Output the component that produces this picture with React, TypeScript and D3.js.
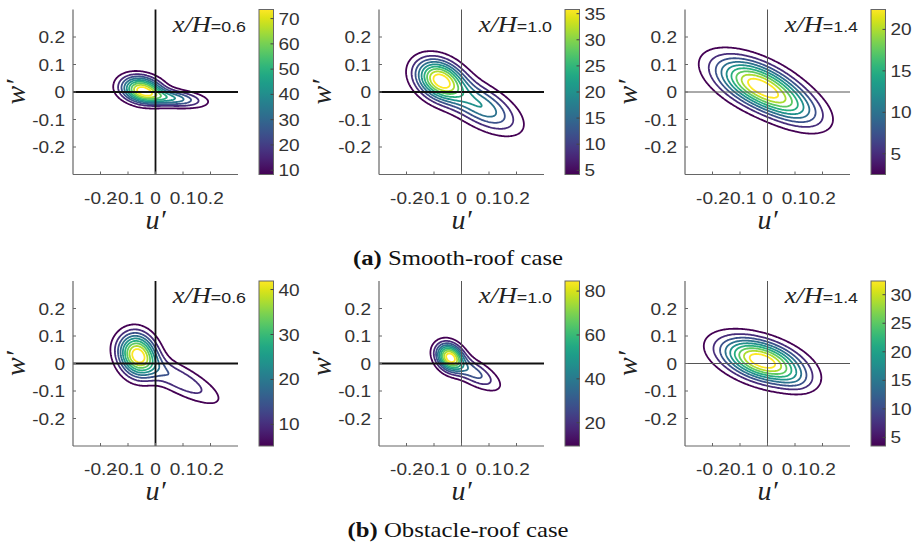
import React, { useEffect, useRef } from "react";
import * as d3 from "d3";

const stations = ["0.6", "1.0", "1.4"];
const caseTags = ["(a)", "(b)"];
const caseLabels = ["Smooth-roof case", "Obstacle-roof case"];
const axisTicks = [-0.2, -0.1, 0, 0.1, 0.2];
const axisTickLabels = ["-0.2", "-0.1", "0", "0.1", "0.2"];

// lowest / highest contour level of each panel (= colorbar limits)
const cbarMin = [8.3, 4.2, 2.5, 5.2, 9.4, 3.5];
const cbarMax = [73.6, 35.8, 22.4, 41.9, 84.6, 32.4];
const cbarTicks = [
  [10, 20, 30, 40, 50, 60, 70],
  [5, 10, 15, 20, 25, 30, 35],
  [5, 10, 15, 20],
  [10, 20, 30, 40],
  [20, 40, 60, 80],
  [5, 10, 15, 20, 25, 30],
];
const peakValues = [81.8, 39.8, 24.9, 46.5, 94, 36];
const levelCount = 9;

const smooth06 = [
  [-0.05, 0.01, 0.05, 0.031, -12, 1],
  [0.055, -0.022, 0.078, 0.02, -6, 0.55],
];
const smooth10 = [
  [-0.08, 0.045, 0.062, 0.045, -30, 1],
  [0.07, -0.05, 0.1, 0.045, -30, 0.55],
];
const smooth14 = [
  [-0.035, 0.025, 0.11, 0.05, -25, 1],
  [0.1, -0.06, 0.09, 0.045, -25, 0.33],
];
const obstacle06 = [
  [-0.065, 0.032, 0.055, 0.045, -70, 1],
  [0.08, -0.055, 0.12, 0.035, -28, 0.33],
];
const obstacle10 = [
  [-0.043, 0.024, 0.036, 0.029, -50, 1],
  [0.04, -0.03, 0.072, 0.028, -30, 0.4],
];
const obstacle14 = [
  [-0.02, 0.01, 0.102, 0.046, -18, 1],
  [0.1, -0.06, 0.05, 0.03, -18, 0.1],
];
const panelBlobs = [smooth06, smooth10, smooth14, obstacle06, obstacle10, obstacle14];

// [horizontal zero line bold, vertical zero line bold]
const zeroBold = [
  [true, true],
  [true, false],
  [false, false],
  [true, true],
  [true, false],
  [false, false],
];

const W = 918;
const H = 545;
const plotLeft = [73, 379, 685];
const plotTop = [9.5, 281];
const plotSize = 165;
const sans = "Liberation Sans, Arial, sans-serif";
const serif = "Liberation Serif, Times New Roman, serif";

export default function App() {
  const ref = useRef<SVGSVGElement | null>(null);

  useEffect(() => {
    const svg = d3.select(ref.current);
    svg.selectAll("*").remove();
    const defs = svg.append("defs");

    const grad = defs
      .append("linearGradient")
      .attr("id", "viridis")
      .attr("x1", 0)
      .attr("y1", 1)
      .attr("x2", 0)
      .attr("y2", 0);
    d3.range(0, 1.0001, 0.05).forEach((t) => {
      grad
        .append("stop")
        .attr("offset", t)
        .attr("stop-color", d3.interpolateViridis(t));
    });

    // stretched sans text, like the original's matlab labels
    const label = (g: any, x: number, y: number, txt: string, anchor: string) =>
      g
        .append("text")
        .attr("transform", `translate(${x},${y}) scale(1.12,1)`)
        .attr("text-anchor", anchor)
        .attr("font-family", sans)
        .attr("font-size", 17)
        .attr("fill", "#333")
        .text(txt);

    const N = 151;
    const step = 0.6 / (N - 1);

    panelBlobs.forEach((blobs, p) => {
      const col = p % 3;
      const row = Math.floor(p / 3);
      const left = plotLeft[col];
      const top = plotTop[row];

      const x = d3.scaleLinear().domain([-0.3, 0.3]).range([left, left + plotSize]);
      const y = d3.scaleLinear().domain([-0.3, 0.3]).range([top + plotSize, top]);

      const g = svg.append("g");

      defs
        .append("clipPath")
        .attr("id", "clip" + p)
        .append("rect")
        .attr("x", left)
        .attr("y", top)
        .attr("width", plotSize)
        .attr("height", plotSize);

      // density grid
      const values: number[] = new Array(N * N);
      let vmax = 0;
      for (let j = 0; j < N; j++) {
        const w = -0.3 + j * step;
        for (let i = 0; i < N; i++) {
          const u = -0.3 + i * step;
          let v = 0;
          blobs.forEach(([u0, w0, s1, s2, ang, a]) => {
            const t = (ang * Math.PI) / 180;
            const du = u - u0;
            const dw = w - w0;
            const along = du * Math.cos(t) + dw * Math.sin(t);
            const across = -du * Math.sin(t) + dw * Math.cos(t);
            v += a * Math.exp(-0.5 * ((along / s1) ** 2 + (across / s2) ** 2));
          });
          values[j * N + i] = v;
          if (v > vmax) vmax = v;
        }
      }
      const k = peakValues[p] / vmax;
      for (let i = 0; i < values.length; i++) values[i] *= k;

      const levels = d3.range(levelCount).map(
        (i) => cbarMin[p] + ((cbarMax[p] - cbarMin[p]) * i) / (levelCount - 1)
      );
      const color = d3.scaleSequential(d3.interpolateViridis).domain([cbarMin[p], cbarMax[p]]);

      const contours = d3.contours().size([N, N]).thresholds(levels)(values);
      const proj = d3.geoTransform({
        point(px: number, py: number) {
          (this as any).stream.point(x(-0.3 + (px - 0.5) * step), y(-0.3 + (py - 0.5) * step));
        },
      });
      const path = d3.geoPath(proj);

      g.append("g")
        .attr("clip-path", `url(#clip${p})`)
        .selectAll("path")
        .data(contours)
        .enter()
        .append("path")
        .attr("d", (d: any) => path(d))
        .attr("fill", "none")
        .attr("stroke", (d: any) => color(d.value))
        .attr("stroke-width", 1.8)
        .attr("stroke-linejoin", "round");

      // zero lines
      const [hb, vb] = zeroBold[p];
      g.append("line")
        .attr("x1", left)
        .attr("x2", left + plotSize)
        .attr("y1", y(0))
        .attr("y2", y(0))
        .attr("stroke", hb ? "#111" : "#555")
        .attr("stroke-width", hb ? 1.8 : 1);
      g.append("line")
        .attr("x1", x(0))
        .attr("x2", x(0))
        .attr("y1", top)
        .attr("y2", top + plotSize)
        .attr("stroke", vb ? "#111" : "#555")
        .attr("stroke-width", vb ? 1.8 : 1);

      // axes
      const axisColor = "#666";
      g.append("line")
        .attr("x1", left)
        .attr("x2", left)
        .attr("y1", top)
        .attr("y2", top + plotSize)
        .attr("stroke", axisColor)
        .attr("stroke-width", 1.2);
      g.append("line")
        .attr("x1", left)
        .attr("x2", left + plotSize)
        .attr("y1", top + plotSize)
        .attr("y2", top + plotSize)
        .attr("stroke", axisColor)
        .attr("stroke-width", 1.2);

      axisTicks.forEach((t, i) => {
        g.append("line")
          .attr("x1", x(t))
          .attr("x2", x(t))
          .attr("y1", top + plotSize)
          .attr("y2", top + plotSize - 3)
          .attr("stroke", axisColor);
        g.append("line")
          .attr("x1", left)
          .attr("x2", left + 3)
          .attr("y1", y(t))
          .attr("y2", y(t))
          .attr("stroke", axisColor);
        label(g, x(t), top + plotSize + 29, axisTickLabels[i], "middle");
        label(g, left - 8, y(t) + 6, axisTickLabels[i], "end");
      });

      // axis labels
      g.append("text")
        .attr("x", left + plotSize / 2)
        .attr("y", top + plotSize + 54)
        .attr("text-anchor", "middle")
        .attr("font-family", serif)
        .attr("font-style", "italic")
        .attr("font-size", 28)
        .attr("fill", "#222")
        .text("u\u2032");
      g.append("text")
        .attr("transform", `translate(${left - 48},${top + plotSize / 2}) rotate(-90)`)
        .attr("text-anchor", "middle")
        .attr("font-family", serif)
        .attr("font-style", "italic")
        .attr("font-size", 28)
        .attr("fill", "#222")
        .text("w\u2032");

      // station label
      const st = g
        .append("text")
        .attr("transform", `translate(${left + plotSize + 8},${top + 22}) scale(1.15,1)`)
        .attr("text-anchor", "end")
        .attr("fill", "#222");
      st.append("tspan")
        .attr("font-family", serif)
        .attr("font-style", "italic")
        .attr("font-size", 23)
        .text("x/H");
      st.append("tspan")
        .attr("font-family", sans)
        .attr("font-size", 15.5)
        .text("=" + stations[col]);

      // colorbar
      const cbLeft = left + 186;
      const cbW = 14.5;
      const cy = d3.scaleLinear().domain([cbarMin[p], cbarMax[p]]).range([top + plotSize, top]);
      g.append("rect")
        .attr("x", cbLeft)
        .attr("y", top)
        .attr("width", cbW)
        .attr("height", plotSize)
        .attr("fill", "url(#viridis)")
        .attr("stroke", "#666")
        .attr("stroke-width", 1);
      cbarTicks[p].forEach((t) => {
        g.append("line")
          .attr("x1", cbLeft + cbW)
          .attr("x2", cbLeft + cbW - 3)
          .attr("y1", cy(t))
          .attr("y2", cy(t))
          .attr("stroke", "#444");
        label(g, cbLeft + cbW + 5, cy(t) + 6, String(t), "start");
      });
    });

    // captions
    const capY = [265, 537];
    caseTags.forEach((tag, r) => {
      const t = svg
        .append("text")
        .attr("transform", `translate(458,${capY[r]}) scale(1.15,1)`)
        .attr("text-anchor", "middle")
        .attr("font-family", serif)
        .attr("font-size", 21.5)
        .attr("fill", "#111");
      t.append("tspan").attr("font-weight", "bold").text(tag);
      t.append("tspan").text(" " + caseLabels[r]);
    });
  }, []);

  return (
    <svg
      ref={ref}
      width={W}
      height={H}
      style={{ position: "absolute", left: 0, top: 0, background: "#fff" }}
    />
  );
}
